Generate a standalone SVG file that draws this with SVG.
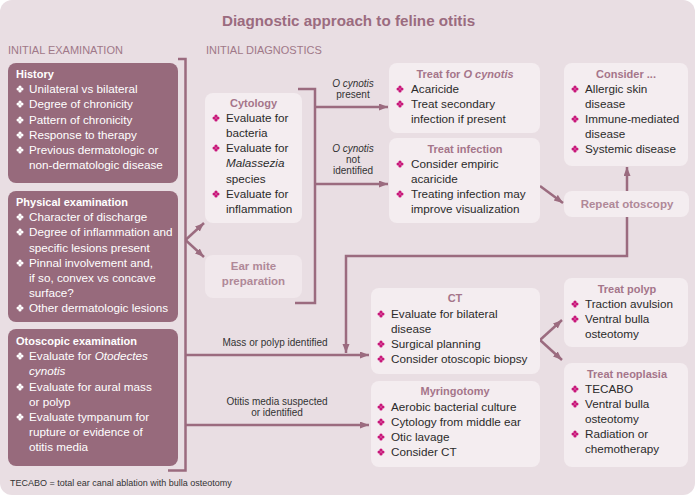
<svg xmlns="http://www.w3.org/2000/svg" xmlns:xlink="http://www.w3.org/1999/xlink" width="697" height="497" viewBox="0 0 697 497">
<style>
text{font-family:"Liberation Sans",Arial,Helvetica,sans-serif}
.ttl{font-size:15.2px;font-weight:bold;fill:#9b6b7f;text-anchor:middle}
.hdr{font-size:11px;fill:#a07888}
.dbox{fill:#976a7c}
.lbox{fill:#f4edf0}
.ebox{fill:#f1e8ec}
.dh{font-size:11px;font-weight:bold;fill:#ffffff}
.dt{font-size:11.7px;fill:#ffffff}
.lh{font-size:11px;font-weight:bold;fill:#a5758a;text-anchor:middle}
.eh{font-size:11.5px;font-weight:bold;fill:#b08898;text-anchor:middle}
.lt{font-size:11.7px;fill:#2b2b2b}
.lbl{font-size:10px;fill:#333333;text-anchor:middle}
.foot{font-size:9px;fill:#333333}
.wb{fill:#ffffff}
.mb{fill:#c8177a}
.con{fill:none;stroke:#9b6b7f;stroke-width:2.5}
</style>
<defs>
<g id="bul"><circle cx="0" cy="-1.9" r="1.6"/><circle cx="0" cy="1.9" r="1.6"/><circle cx="-1.9" cy="0" r="1.6"/><circle cx="1.9" cy="0" r="1.6"/></g>
<marker id="ah" markerUnits="userSpaceOnUse" markerWidth="10" markerHeight="8" refX="9" refY="3.5" orient="auto"><path d="M0,0 L9,3.5 L0,7 z" fill="#9b6b7f"/></marker>
</defs>
<rect x="0" y="0" width="697" height="497" fill="#ffffff"/>
<rect x="0" y="0" width="695" height="495" rx="12" fill="#e9dee3"/>
<text class="ttl" x="348.5" y="26">Diagnostic approach to feline otitis</text>
<text class="hdr" x="8" y="54">INITIAL EXAMINATION</text>
<text class="hdr" x="206" y="54">INITIAL DIAGNOSTICS</text>

<g id="connectors">
<path class="con" d="M178,59 H185.5 V470.5 H168"/>
<path class="con" d="M185.5,240 L204,223" marker-end="url(#ah)"/>
<path class="con" d="M185.5,240 L204,257" marker-end="url(#ah)"/>
<path class="con" d="M298,89 H315 V303 H295"/>
<path class="con" d="M315,107 H388" marker-end="url(#ah)"/>
<path class="con" d="M315,184 H388" marker-end="url(#ah)"/>
<path class="con" d="M185.5,355 H369" marker-end="url(#ah)"/>
<path class="con" d="M185.5,425 H369" marker-end="url(#ah)"/>
<path class="con" d="M540,186 L563,203" marker-end="url(#ah)"/>
<path class="con" d="M627,191 V167" marker-end="url(#ah)"/>
<path class="con" d="M627,217 V256 H346 V353" marker-end="url(#ah)"/>
<path class="con" d="M540,340 L562,320" marker-end="url(#ah)"/>
<path class="con" d="M540,340 L562,360" marker-end="url(#ah)"/>
<text class="lbl" x="353" y="87"><tspan font-style="italic">O cynotis</tspan></text>
<text class="lbl" x="353" y="98">present</text>
<text class="lbl" x="353" y="152"><tspan font-style="italic">O cynotis</tspan></text>
<text class="lbl" x="353" y="163">not</text>
<text class="lbl" x="353" y="174">identified</text>
<text class="lbl" x="275" y="346">Mass or polyp identified</text>
<text class="lbl" x="277" y="405">Otitis media suspected</text>
<text class="lbl" x="277" y="416">or identified</text>
</g>

<g id="history">
<rect class="dbox" x="8" y="63" width="170" height="120" rx="8"/>
<text class="dh" x="16" y="78">History</text>
<use xlink:href="#bul" class="wb" x="20" y="89"/><text class="dt" x="29" y="93">Unilateral vs bilateral</text>
<use xlink:href="#bul" class="wb" x="20" y="104"/><text class="dt" x="29" y="108">Degree of chronicity</text>
<use xlink:href="#bul" class="wb" x="20" y="120"/><text class="dt" x="29" y="124">Pattern of chronicity</text>
<use xlink:href="#bul" class="wb" x="20" y="135"/><text class="dt" x="29" y="139">Response to therapy</text>
<use xlink:href="#bul" class="wb" x="20" y="150"/><text class="dt" x="29" y="154">Previous dermatologic or</text>
<text class="dt" x="29" y="169">non-dermatologic disease</text>
</g>

<g id="physical">
<rect class="dbox" x="8" y="191" width="170" height="131" rx="8"/>
<text class="dh" x="16" y="206">Physical examination</text>
<use xlink:href="#bul" class="wb" x="20" y="217"/><text class="dt" x="29" y="221">Character of discharge</text>
<use xlink:href="#bul" class="wb" x="20" y="232"/><text class="dt" x="29" y="236">Degree of inflammation and</text>
<text class="dt" x="29" y="251.5">specific lesions present</text>
<use xlink:href="#bul" class="wb" x="20" y="263"/><text class="dt" x="29" y="267">Pinnal involvement and,</text>
<text class="dt" x="29" y="282">if so, convex vs concave</text>
<text class="dt" x="29" y="297">surface?</text>
<use xlink:href="#bul" class="wb" x="20" y="308"/><text class="dt" x="29" y="312">Other dermatologic lesions</text>
</g>

<g id="otoscopic">
<rect class="dbox" x="8" y="329" width="170" height="137" rx="8"/>
<text class="dh" x="16" y="345">Otoscopic examination</text>
<use xlink:href="#bul" class="wb" x="20" y="356"/><text class="dt" x="29" y="360">Evaluate for <tspan font-style="italic">Otodectes</tspan></text>
<text class="dt" x="29" y="375" font-style="italic">cynotis</text>
<use xlink:href="#bul" class="wb" x="20" y="387"/><text class="dt" x="29" y="391">Evaluate for aural mass</text>
<text class="dt" x="29" y="406">or polyp</text>
<use xlink:href="#bul" class="wb" x="20" y="417"/><text class="dt" x="29" y="421">Evaluate tympanum for</text>
<text class="dt" x="29" y="436">rupture or evidence of</text>
<text class="dt" x="29" y="451">otitis media</text>
</g>

<g id="cytology">
<rect class="lbox" x="205" y="93" width="97" height="130" rx="8"/>
<text class="lh" x="253.5" y="107">Cytology</text>
<use xlink:href="#bul" class="mb" x="216" y="118"/><text class="lt" x="226" y="122">Evaluate for</text>
<text class="lt" x="226" y="137">bacteria</text>
<use xlink:href="#bul" class="mb" x="216" y="148"/><text class="lt" x="226" y="152">Evaluate for</text>
<text class="lt" x="226" y="167" font-style="italic">Malassezia</text>
<text class="lt" x="226" y="183">species</text>
<use xlink:href="#bul" class="mb" x="216" y="194"/><text class="lt" x="226" y="198">Evaluate for</text>
<text class="lt" x="226" y="213">inflammation</text>
</g>

<g id="earmite">
<rect class="ebox" x="205" y="255" width="97" height="43" rx="8"/>
<text class="eh" x="253.5" y="270">Ear mite</text>
<text class="eh" x="253.5" y="285">preparation</text>
</g>

<g id="treat-ocynotis">
<rect class="lbox" x="389" y="63" width="151" height="70" rx="8"/>
<text class="lh" x="465" y="78">Treat for <tspan font-style="italic">O cynotis</tspan></text>
<use xlink:href="#bul" class="mb" x="400" y="89"/><text class="lt" x="411" y="93">Acaricide</text>
<use xlink:href="#bul" class="mb" x="400" y="104"/><text class="lt" x="411" y="108">Treat secondary</text>
<text class="lt" x="411" y="123">infection if present</text>
</g>

<g id="treat-infection">
<rect class="lbox" x="389" y="138" width="151" height="85" rx="8"/>
<text class="lh" x="465" y="153">Treat infection</text>
<use xlink:href="#bul" class="mb" x="400" y="164"/><text class="lt" x="411" y="168">Consider empiric</text>
<text class="lt" x="411" y="183">acaricide</text>
<use xlink:href="#bul" class="mb" x="400" y="194"/><text class="lt" x="411" y="198">Treating infection may</text>
<text class="lt" x="411" y="213">improve visualization</text>
</g>

<g id="consider">
<rect class="lbox" x="564" y="63" width="124" height="103" rx="8"/>
<text class="lh" x="626" y="78">Consider ...</text>
<use xlink:href="#bul" class="mb" x="575" y="89"/><text class="lt" x="585" y="93">Allergic skin</text>
<text class="lt" x="585" y="108">disease</text>
<use xlink:href="#bul" class="mb" x="575" y="119"/><text class="lt" x="585" y="123">Immune-mediated</text>
<text class="lt" x="585" y="138">disease</text>
<use xlink:href="#bul" class="mb" x="575" y="149"/><text class="lt" x="585" y="153">Systemic disease</text>
</g>

<g id="repeat-otoscopy">
<rect class="lbox" x="564" y="191" width="125" height="26" rx="8"/>
<text class="eh" x="627" y="208">Repeat otoscopy</text>
</g>

<g id="ct">
<rect class="lbox" x="371" y="288" width="169" height="86" rx="8"/>
<text class="lh" x="455" y="302">CT</text>
<use xlink:href="#bul" class="mb" x="381" y="314"/><text class="lt" x="391" y="318">Evaluate for bilateral</text>
<text class="lt" x="391" y="333">disease</text>
<use xlink:href="#bul" class="mb" x="381" y="344"/><text class="lt" x="391" y="348">Surgical planning</text>
<use xlink:href="#bul" class="mb" x="381" y="359"/><text class="lt" x="391" y="363">Consider otoscopic biopsy</text>
</g>

<g id="myringotomy">
<rect class="lbox" x="371" y="381" width="169" height="86" rx="8"/>
<text class="lh" x="455" y="395">Myringotomy</text>
<use xlink:href="#bul" class="mb" x="381" y="407"/><text class="lt" x="391" y="411">Aerobic bacterial culture</text>
<use xlink:href="#bul" class="mb" x="381" y="422"/><text class="lt" x="391" y="426">Cytology from middle ear</text>
<use xlink:href="#bul" class="mb" x="381" y="437"/><text class="lt" x="391" y="441">Otic lavage</text>
<use xlink:href="#bul" class="mb" x="381" y="452"/><text class="lt" x="391" y="456">Consider CT</text>
</g>

<g id="treat-polyp">
<rect class="lbox" x="564" y="278" width="124" height="69" rx="8"/>
<text class="lh" x="627" y="293">Treat polyp</text>
<use xlink:href="#bul" class="mb" x="575" y="304"/><text class="lt" x="585" y="308">Traction avulsion</text>
<use xlink:href="#bul" class="mb" x="575" y="319"/><text class="lt" x="585" y="323">Ventral bulla</text>
<text class="lt" x="585" y="338">osteotomy</text>
</g>

<g id="treat-neoplasia">
<rect class="lbox" x="564" y="363" width="124" height="104" rx="8"/>
<text class="lh" x="627" y="378">Treat neoplasia</text>
<use xlink:href="#bul" class="mb" x="575" y="389"/><text class="lt" x="585" y="393">TECABO</text>
<use xlink:href="#bul" class="mb" x="575" y="404"/><text class="lt" x="585" y="408">Ventral bulla</text>
<text class="lt" x="585" y="423">osteotomy</text>
<use xlink:href="#bul" class="mb" x="575" y="434"/><text class="lt" x="585" y="438">Radiation or</text>
<text class="lt" x="585" y="453">chemotherapy</text>
</g>

<text class="foot" x="10" y="486">TECABO = total ear canal ablation with bulla osteotomy</text>
</svg>
